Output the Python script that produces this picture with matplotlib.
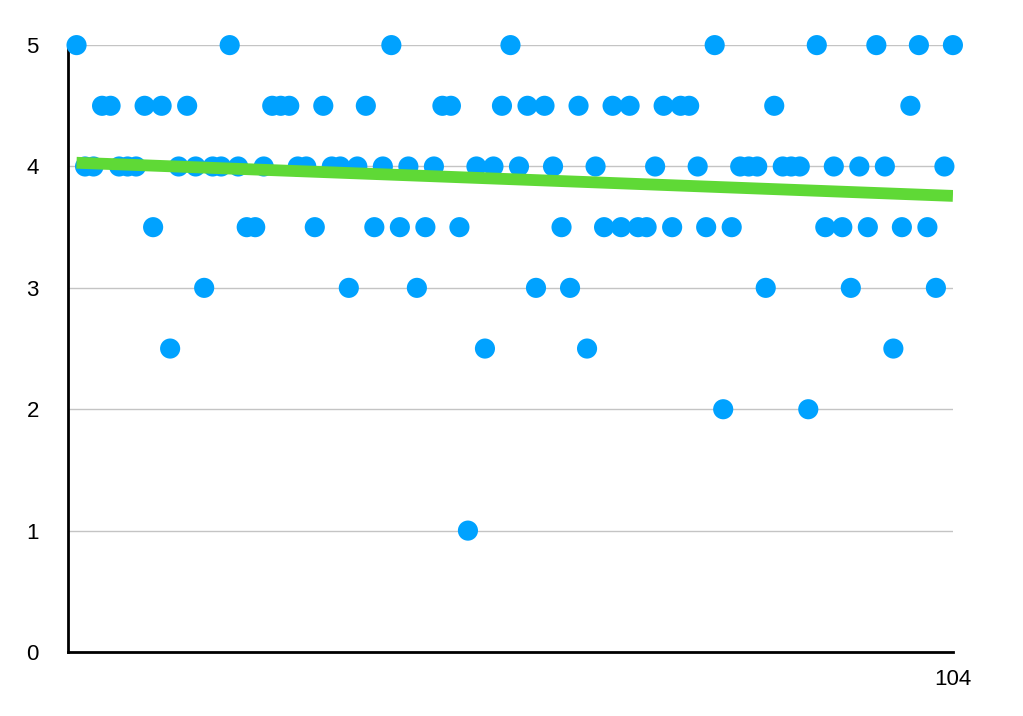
import numpy as np
import matplotlib.pyplot as plt

plt.rcParams['font.family'] = ['Liberation Sans', 'DejaVu Sans']

# ratings, one per entry (1..104)
index = list(range(1, 105))
ratings = [
    5, 4, 4, 4.5, 4.5, 4, 4, 4, 4.5, 3.5, 4.5, 2.5, 4, 4.5, 4, 3, 4, 4, 5, 4,
    3.5, 3.5, 4, 4.5, 4.5, 4.5, 4, 4, 3.5, 4.5, 4, 4, 3, 4, 4.5, 3.5, 4, 5, 3.5, 4,
    3, 3.5, 4, 4.5, 4.5, 3.5, 1, 4, 2.5, 4, 4.5, 5, 4, 4.5, 3, 4.5, 4, 3.5, 3, 4.5,
    2.5, 4, 3.5, 4.5, 3.5, 4.5, 3.5, 3.5, 4, 4.5, 3.5, 4.5, 4.5, 4, 3.5, 5, 2, 3.5, 4, 4,
    4, 3, 4.5, 4, 4, 4, 2, 5, 3.5, 4, 3.5, 3, 4, 3.5, 5, 4, 2.5, 3.5, 4.5, 5,
    3.5, 3, 4, 5,
]

x = np.array(index)
y = np.array(ratings)
slope, intercept = np.polyfit(x, y, 1)

fig = plt.figure(figsize=(10.23, 7.16), dpi=100)
ax = fig.add_axes([0.0665, 0.0894, 0.865, 0.8476])

# horizontal gridlines
for v in [1, 2, 3, 4, 5]:
    ax.axhline(v, color='#c4c4c4', lw=1, zorder=1)

ax.scatter(x, y, s=210, color='#00a2ff', edgecolors='none', zorder=3, clip_on=False)
ax.plot([x[0], x[-1]], [slope * x[0] + intercept, slope * x[-1] + intercept],
        color='#5fd936', lw=8.5, solid_capstyle='butt', zorder=4)

ax.set_xlim(0, 104)
ax.set_ylim(0, 5)
ax.set_yticks([0, 1, 2, 3, 4, 5])
ax.set_xticks([104])
ax.tick_params(axis='both', length=0, labelsize=16)
ax.tick_params(axis='y', pad=21)
ax.tick_params(axis='x', pad=12)

for side in ['top', 'right']:
    ax.spines[side].set_visible(False)
for side in ['left', 'bottom']:
    ax.spines[side].set_linewidth(2)
    ax.spines[side].set_color('black')

fig.savefig('out.png', dpi=100)
